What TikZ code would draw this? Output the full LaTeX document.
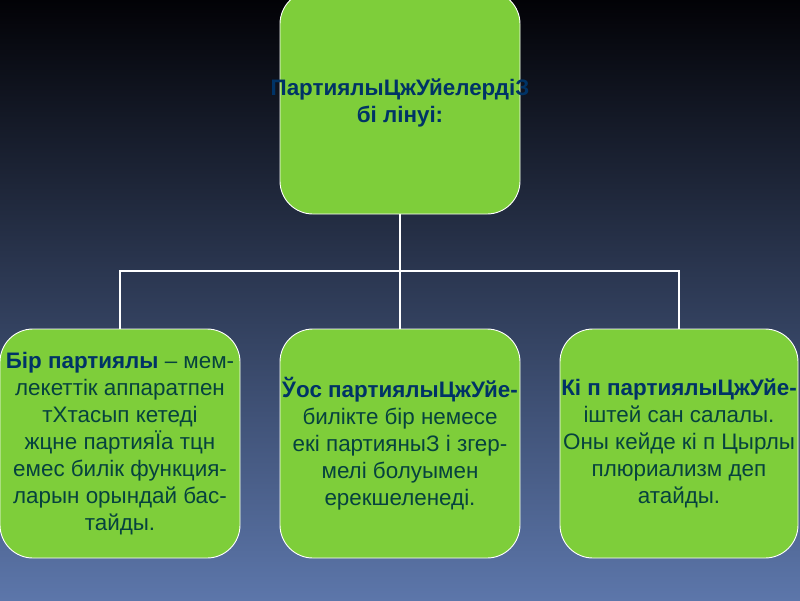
\documentclass[tikz,border=0pt]{standalone}
\usepackage{fontspec}
\setmainfont{Liberation Sans}
\definecolor{bgtop}{RGB}{2,2,6}
\definecolor{bgbot}{RGB}{92,118,170}
\definecolor{boxgreen}{RGB}{126,206,58}
\definecolor{titleblue}{RGB}{0,51,102}
\definecolor{bodytxt}{RGB}{6,66,62}
\tikzset{
  box/.style={rectangle, rounded corners=33pt, draw=white, line width=0.9pt,
    fill=boxgreen, align=center, inner sep=0pt, text=bodytxt,
    font=\fontsize{22.4}{27}\selectfont},
  conn/.style={draw=white, line width=1.8pt}
}
\newcommand{\hd}[1]{\textcolor{titleblue}{\textbf{#1}}}
\newcommand{\ovl}[1]{\makebox[0pt][c]{#1}}
\begin{document}
\begin{tikzpicture}[x=1pt,y=-1pt]
\useasboundingbox (0,0) rectangle (800,600);
\shade[top color=bgtop, bottom color=bgbot] (0,0) rectangle (800,600);
\node[box, minimum width=240pt, minimum height=223pt] (top) at (400,102.5)
  {\ovl{\hd{ПартиялыЦжУйелердіЗ}}\\\ovl{\hd{бі лінуі:}}};
\node[box, minimum width=240pt, minimum height=229pt] (left) at (120,443.5)
  {\hd{Бір партиялы} – мем-\\лекеттік аппаратпен\\тХтасып кетеді\\жцне партияЇа тцн\\емес билік функция-\\ларын орындай бас-\\тайды.};
\node[box, minimum width=240pt, minimum height=229pt] (mid) at (400,443.5)
  {\hd{Ўос партиялыЦжУйе-}\\билікте бір немесе\\екі партияныЗ і згер-\\мелі болуымен\\ерекшеленеді.};
\node[box, minimum width=238pt, minimum height=229pt] (right) at (679,443.5)
  {\hd{Кі п партиялыЦжУйе-}\\іштей сан салалы.\\Оны кейде кі п Цырлы\\плюриализм деп\\атайды.};
\coordinate (bus) at (400,271);
\draw[conn] (top.south) -- (mid.north);
\draw[conn] (left.north) |- (right.north |- bus) -- (right.north);
\end{tikzpicture}
\end{document}
